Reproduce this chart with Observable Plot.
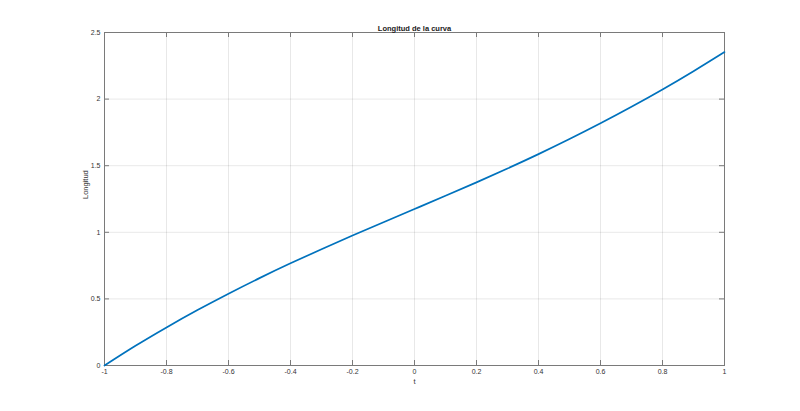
<!DOCTYPE html>
<html>
<head>
<meta charset="utf-8">
<script src="https://cdn.jsdelivr.net/npm/d3@7"></script>
<script src="https://cdn.jsdelivr.net/npm/@observablehq/plot@0.6"></script>
<style>
  html, body { margin: 0; padding: 0; background: #ffffff; }
  #chart svg { display: block; }
</style>
</head>
<body>
<div id="chart"></div>
<script>
// Data
const tValues = [-1, -0.9, -0.8, -0.7, -0.6, -0.5, -0.4, -0.3, -0.2, -0.1, 0, 0.1, 0.2, 0.3, 0.4, 0.5, 0.6, 0.7, 0.8, 0.9, 1];
const longitudValues = [0, 0.148, 0.286, 0.416, 0.539, 0.656, 0.767, 0.873, 0.976, 1.076, 1.175, 1.274, 1.375, 1.479, 1.587, 1.700, 1.818, 1.942, 2.072, 2.209, 2.353];
const xTicks = [-1, -0.8, -0.6, -0.4, -0.2, 0, 0.2, 0.4, 0.6, 0.8, 1];
const xTickLabels = ["-1", "-0.8", "-0.6", "-0.4", "-0.2", "0", "0.2", "0.4", "0.6", "0.8", "1"];
const yTicks = [0, 0.5, 1, 1.5, 2, 2.5];
const yTickLabels = ["0", "0.5", "1", "1.5", "2", "2.5"];
const titleText = "Longitud de la curva";
const xLabel = "t";
const yLabel = "Longitud";

const data = tValues.map((t, i) => ({t, L: longitudValues[i]}));
const axisColor = "#7a7a7a";
const textColor = "#333333";
const frameH = 411 - 32 - 46;
const frameW = 800 - 104 - 76;

const chart = Plot.plot({
  width: 800,
  height: 411,
  marginLeft: 104,
  marginRight: 76,
  marginTop: 32,
  marginBottom: 46,
  style: {fontFamily: "Liberation Sans, Arial, sans-serif", fontSize: "7px", color: textColor, background: "#ffffff"},
  x: {domain: [-1, 1]},
  y: {domain: [0, 2.5]},
  marks: [
    Plot.gridX(xTicks, {stroke: "#000", strokeOpacity: 0.09}),
    Plot.gridY(yTicks, {stroke: "#000", strokeOpacity: 0.09}),
    // inward ticks on all four sides
    Plot.tickX(xTicks, {x: d => d, insetTop: frameH - 5, stroke: axisColor}),
    Plot.tickX(xTicks, {x: d => d, insetBottom: frameH - 5, stroke: axisColor}),
    Plot.tickY(yTicks, {y: d => d, insetRight: frameW - 5, stroke: axisColor}),
    Plot.tickY(yTicks, {y: d => d, insetLeft: frameW - 5, stroke: axisColor}),
    Plot.frame({stroke: axisColor, strokeWidth: 1}),
    Plot.axisX(xTicks, {tickSize: 0, tickPadding: 4, label: null, tickFormat: (d, i) => xTickLabels[i], fill: textColor}),
    Plot.axisY(yTicks, {tickSize: 0, tickPadding: 4, label: null, tickFormat: (d, i) => yTickLabels[i], fill: textColor}),
    Plot.line(data, {x: "t", y: "L", stroke: "#0072BD", strokeWidth: 1.7, curve: "natural"}),
    Plot.text([titleText], {text: d => d, frameAnchor: "top", dy: -7, fontWeight: "bold", fontSize: 7.5, fill: "#1a1a1a"}),
    Plot.text([xLabel], {text: d => d, frameAnchor: "bottom", dy: 18, fontSize: 7.5, fill: textColor}),
    Plot.text([yLabel], {text: d => d, frameAnchor: "left", dx: -19, rotate: -90, fontSize: 7.5, fill: textColor})
  ]
});
document.getElementById("chart").appendChild(chart);
</script>
</body>
</html>
